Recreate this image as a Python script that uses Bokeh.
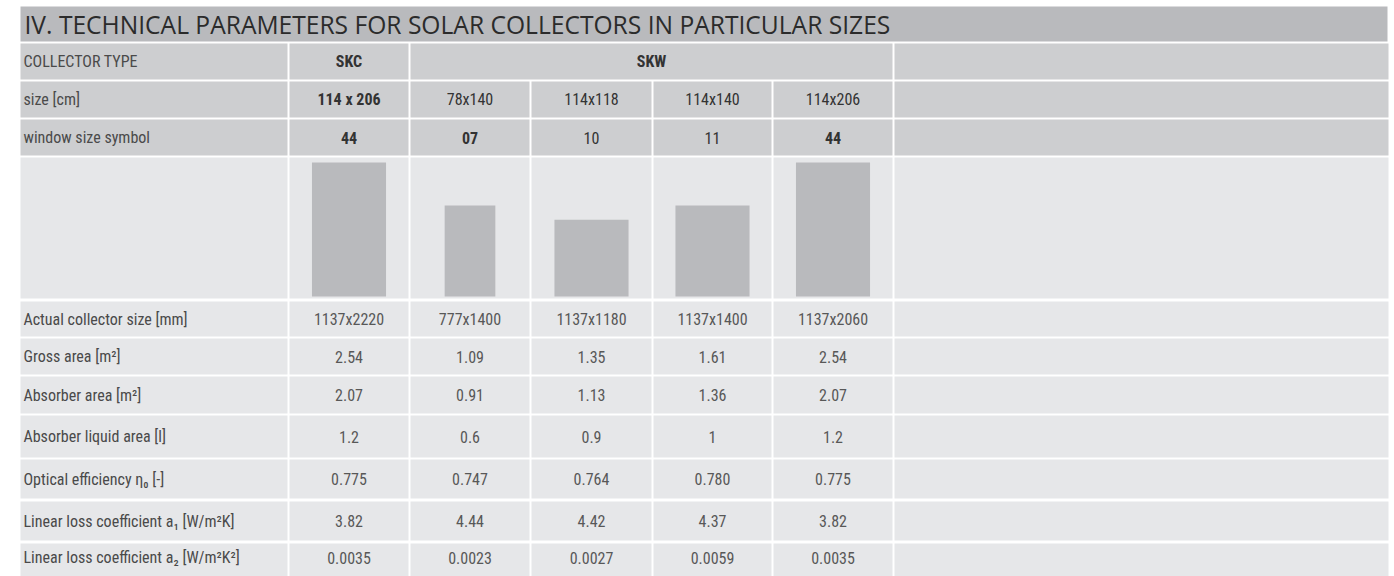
from bokeh.plotting import figure
from bokeh.models import Range1d
from bokeh.core.properties import value
from bokeh.embed import file_html
from bokeh.resources import INLINE

# ---------------- data ----------------
title = "IV. TECHNICAL PARAMETERS FOR SOLAR COLLECTORS IN PARTICULAR SIZES"
collector_types = ["SKC", "SKW"]
sizes_cm = ["114 x 206", "78x140", "114x118", "114x140", "114x206"]
window_symbols = ["44", "07", "10", "11", "44"]
width_cm = [114, 78, 114, 114, 114]
height_cm = [206, 140, 118, 140, 206]
row_labels = [
    "Actual collector size [mm]",
    "Gross area [m²]",
    "Absorber area [m²]",
    "Absorber liquid area [l]",
    "Optical efficiency  η₀ [-]",
    "Linear loss coefficient a₁ [W/m²K]",
    "Linear loss coefficient a₂ [W/m²K²]",
]
actual_size = ["1137x2220", "777x1400", "1137x1180", "1137x1400", "1137x2060"]
gross_area = ["2.54", "1.09", "1.35", "1.61", "2.54"]
absorber_area = ["2.07", "0.91", "1.13", "1.36", "2.07"]
liquid_area = ["1.2", "0.6", "0.9", "1", "1.2"]
optical_eff = ["0.775", "0.747", "0.764", "0.780", "0.775"]
loss_a1 = ["3.82", "4.44", "4.42", "4.37", "3.82"]
loss_a2 = ["0.0035", "0.0023", "0.0027", "0.0059", "0.0035"]
value_rows = [actual_size, gross_area, absorber_area, liquid_area, optical_eff, loss_a1, loss_a2]

# ---------------- layout ----------------
W, H = 1394, 576
col_edges = [20, 288, 409, 530, 652, 772, 893, 1388]
gap = 2
header_rows = [(43, 79), (81, 117), (119, 155)]
image_row = (157, 298)
body_rows = [(301, 336), (338, 374), (376, 413), (415, 457), (459, 498), (501, 540), (543, 582)]
title_row = (6, 41)
bar_base = 296
px_per_cm = 0.65

C_TITLE = "#b9babd"
C_HEAD = "#cdced0"
C_BODY = "#e6e7e9"
C_BAR = "#b9babd"
T_DARK = "#333333"
T_MID = "#4a4a4a"
T_VAL = "#585858"
FONT = value("'Roboto Condensed', 'DejaVu Sans Condensed', Roboto, sans-serif")
FS = "16px"

p = figure(width=W, height=H, output_backend="svg", toolbar_location=None,
           x_range=Range1d(0, W), y_range=Range1d(H, 0),
           min_border=0, outline_line_color=None, background_fill_color="white",
           border_fill_color="white")
p.axis.visible = False
p.grid.visible = False

# cells
L, R, B, T, Cc = [], [], [], [], []
def cell(x0, x1, y0, y1, c):
    L.append(x0); R.append(x1); T.append(y0); B.append(y1); Cc.append(c)

cell(col_edges[0], col_edges[-1] - 1, title_row[0], title_row[1], C_TITLE)
y0, y1 = header_rows[0]
cell(col_edges[0], col_edges[1] - gap / 2, y0, y1, C_HEAD)
cell(col_edges[1] + gap / 2, col_edges[2] - gap / 2, y0, y1, C_HEAD)
cell(col_edges[2] + gap / 2, col_edges[6] - gap / 2, y0, y1, C_HEAD)
cell(col_edges[6] + gap / 2, col_edges[7], y0, y1, C_HEAD)
for (y0, y1), col in [(header_rows[1], C_HEAD), (header_rows[2], C_HEAD), (image_row, C_BODY)] + \
        [(r, C_BODY) for r in body_rows]:
    for i in range(len(col_edges) - 1):
        a = col_edges[i] + (gap / 2 if i > 0 else 0)
        b = col_edges[i + 1] - (gap / 2 if i < len(col_edges) - 2 else 0)
        cell(a, b, y0, y1, col)

p.quad(left=L, right=R, top=T, bottom=B, fill_color=Cc, line_color=None)

# bars showing collector proportions
centers = [(col_edges[i + 1] + col_edges[i + 2]) / 2 for i in range(5)]
bw = [w * px_per_cm for w in width_cm]
bt = [bar_base - h * px_per_cm for h in height_cm]
p.vbar(x=centers, width=bw, bottom=bar_base, top=bt, fill_color=C_BAR, line_color=None)

# title
p.text(x=[24], y=[(title_row[0] + title_row[1]) / 2], text=[title],
       text_font=value("Open Sans"), text_font_size="24.6px", text_color="#2b2b2b",
       text_align="left", text_baseline="middle")

def mid(r):
    return (r[0] + r[1]) / 2

hdr_labels = ["COLLECTOR TYPE", "size [cm]", "window size symbol"]
p.text(x=[23] * 3, y=[mid(r) for r in header_rows], text=hdr_labels, text_font=FONT,
       text_font_size=FS, text_color=T_MID, text_align="left", text_baseline="middle")
p.text(x=[(col_edges[1] + col_edges[2]) / 2, (col_edges[2] + col_edges[6]) / 2],
       y=[mid(header_rows[0])] * 2, text=collector_types, text_font=FONT,
       text_font_size=FS, text_font_style="bold", text_color=T_DARK,
       text_align="center", text_baseline="middle")
bold_size = [True, False, False, False, False]
bold_sym = [s in ("44", "07") for s in window_symbols]
for row, vals, bolds in [(header_rows[1], sizes_cm, bold_size), (header_rows[2], window_symbols, bold_sym)]:
    for c, v, bo in zip(centers, vals, bolds):
        p.text(x=[c], y=[mid(row)], text=[v], text_font=FONT, text_font_size=FS,
               text_font_style="bold" if bo else "normal", text_color=T_DARK,
               text_align="center", text_baseline="middle")

p.text(x=[23] * len(row_labels), y=[mid(r) for r in body_rows[:-1]] + [557], text=row_labels,
       text_font=FONT, text_font_size=FS, text_color=T_MID, text_align="left", text_baseline="middle")
xs, ys, ts = [], [], []
for k, (r, vals) in enumerate(zip(body_rows, value_rows)):
    for c, v in zip(centers, vals):
        xs.append(c); ys.append(mid(r) if k < len(body_rows) - 1 else 557); ts.append(v)
p.text(x=xs, y=ys, text=ts, text_font=FONT, text_font_size=FS, text_color=T_VAL,
       text_align="center", text_baseline="middle")

open("out.html", "w").write(file_html(p, INLINE))
